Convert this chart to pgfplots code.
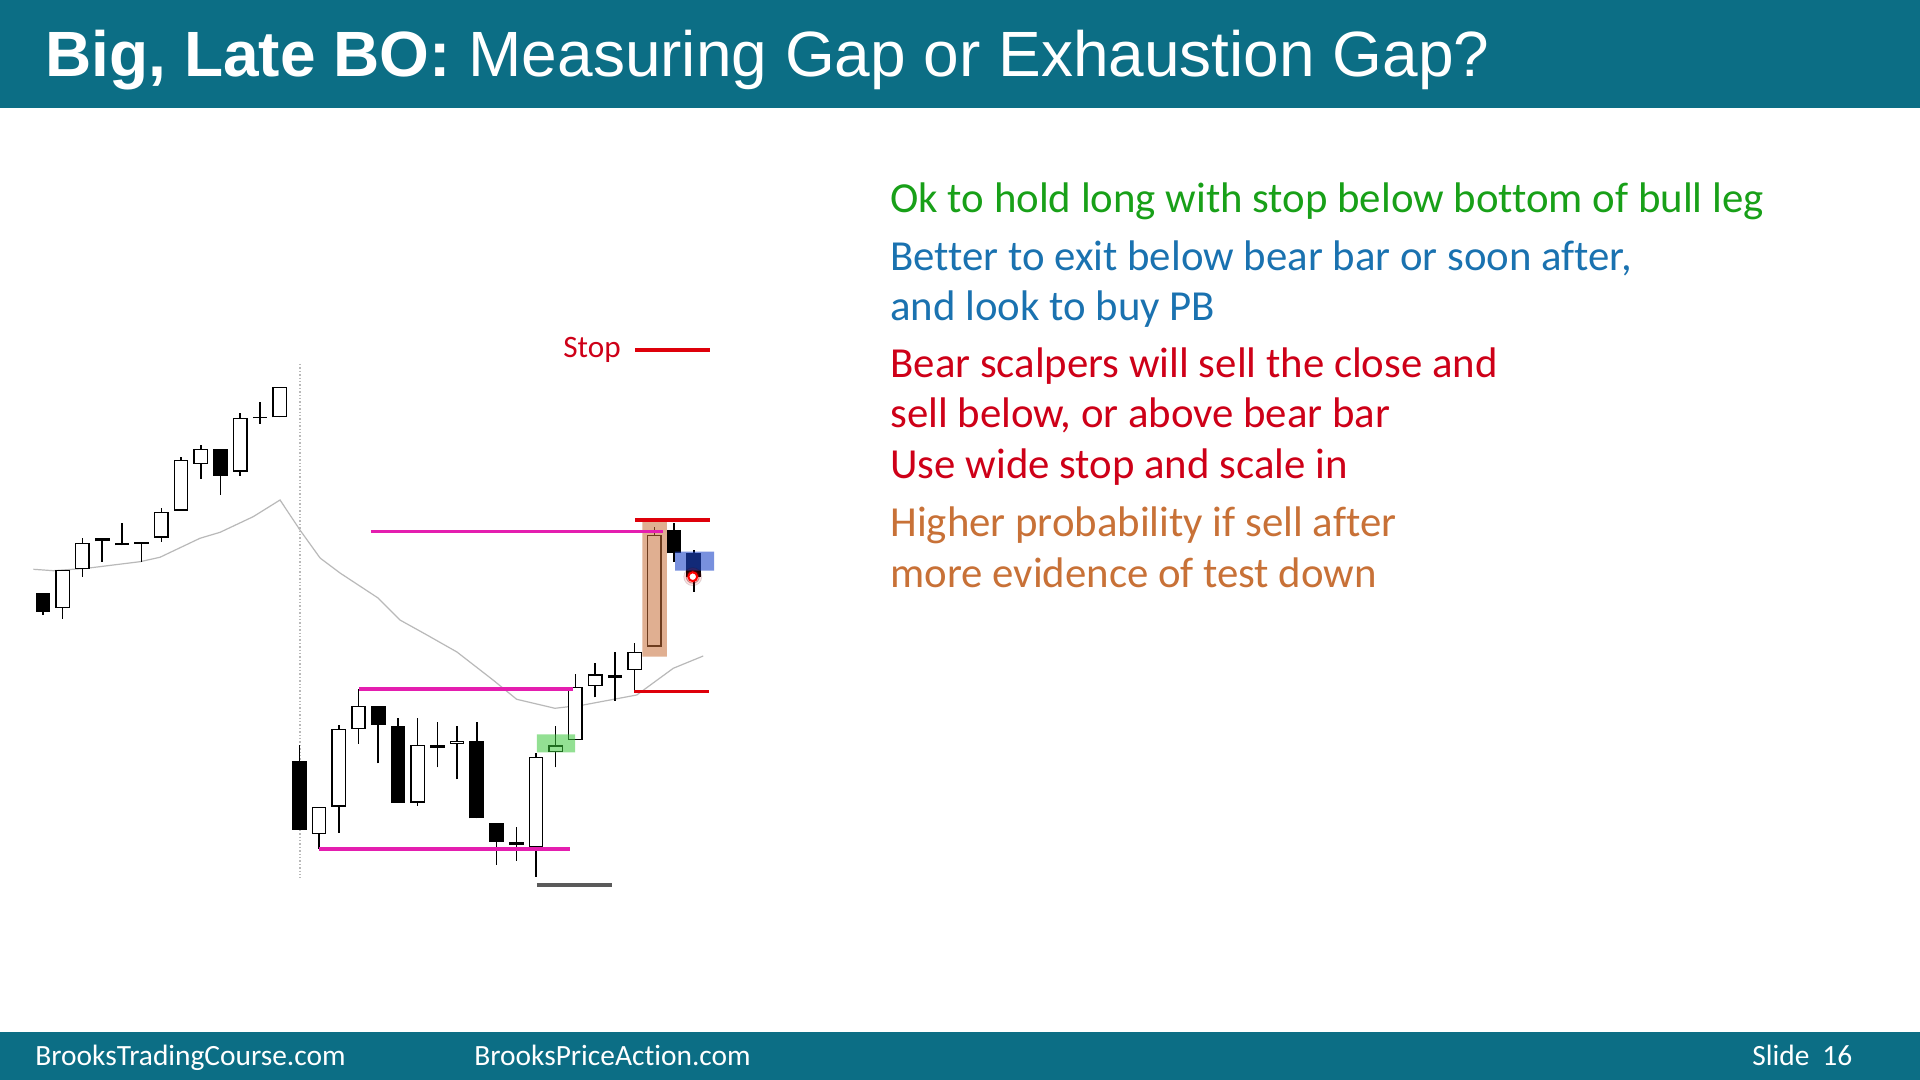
\documentclass[border=0pt]{standalone}
\usepackage{pgfplots}
\pgfplotsset{compat=1.18}
\usepackage{pgfplotstable}
\usepackage{fontspec}
\setmainfont[Ligatures=NoCommon]{Carlito}
\newfontfamily\titlefont{Liberation Sans}
\definecolor{hdr}{RGB}{12,110,133}
\definecolor{tgreen}{RGB}{24,160,24}
\definecolor{tblue}{RGB}{26,114,176}
\definecolor{tred}{RGB}{206,0,24}
\definecolor{torange}{RGB}{200,113,55}
\definecolor{mag}{RGB}{228,30,175}
\definecolor{lred}{RGB}{222,0,10}
\definecolor{ema}{RGB}{185,185,185}
\definecolor{obox}{RGB}{200,110,55}
\definecolor{gbox}{RGB}{60,200,60}
\definecolor{bbox}{RGB}{30,70,200}

% bull bars: i open high low close
\pgfplotstableread{
i  o     h     l     c
1  472   510   461   510
2  511   542   503   537
6  542.3 572.3 538.3 568.3
7  569.3 623.3 569.3 620
8  616   635   601   631
10 608.3 666.7 604.3 662.3
12 662.7 693.3 662.7 693.3
14 246   273   231   273
15 273.3 355   247   351
16 351   391   336   374
19 277.3 362.3 274   335
21 336   354.3 300.7 339.3
25 232.7 326.7 203.3 323.3
26 328   354   312.7 334.7
27 340   405.7 340   393.3
28 394   416.7 382.7 405.7
30 410   436.7 388.3 428.3
31 433.3 552.7 433.3 545
}\bull

% bear bars: i open high low close
\pgfplotstableread{
i  o     h     l     c
0  487   487   465   468
3  541.5 542   518   538.5
4  537.3 557   534.7 534.7
5  537.6 537.6 518.3 536.4
9  631   631   585   604.3
11 662.6 678   656   661.6
13 319.3 335   250   250
17 374   374   316.7 355
18 354.3 362.3 277.3 277.3
20 334.7 358.3 312.7 332
22 339.3 358.3 261.7 261.7
23 257.3 257.3 215   238.3
24 238   253.3 219.3 235
29 405   428.3 379   402.3
32 550   556.7 518.3 526.7
33 526.7 530   488.3 503.3
}\bear

\pgfplotsset{candle/.style={draw=none, mark=none, forget plot,
  error bars/.cd, y dir=plus, y explicit, error mark=none}}

\begin{document}
\begin{tikzpicture}
% ---------- slide frame and text (pixel coordinates) ----------
\begin{axis}[at={(0,0)}, anchor=south west, width=960pt, height=540pt,
  scale only axis, xmin=0, xmax=1920, ymin=0, ymax=1080, y dir=reverse,
  hide axis, clip=false]
\fill[white] (axis cs:0,0) rectangle (axis cs:1920,1080);
\fill[hdr] (axis cs:0,0) rectangle (axis cs:1920,108);
\fill[hdr] (axis cs:0,1032) rectangle (axis cs:1920,1080);
\node[anchor=base west, inner sep=0, text=white, font=\titlefont\fontsize{32}{38}\selectfont]
  at (axis cs:45,77) {\textbf{Big, Late BO:} Measuring Gap or Exhaustion Gap?};
\begin{scope}[every node/.style={anchor=base west, inner sep=0, text=white, font=\fontsize{14.7}{18}\selectfont}]
\node at (axis cs:35,1065) {BrooksTradingCourse.com};
\node at (axis cs:474,1065) {BrooksPriceAction.com};
\node at (axis cs:1752,1065) {Slide};
\node at (axis cs:1822,1065) {16};
\end{scope}
\begin{scope}[every node/.style={anchor=base west, inner sep=0, font=\fontsize{21.4}{25}\selectfont}]
\node[text=tgreen] at (axis cs:890,212.5) {Ok to hold long with stop below bottom of bull leg};
\node[text=tblue] at (axis cs:890,270) {Better to exit below bear bar or soon after,};
\node[text=tblue] at (axis cs:890,320.5) {and look to buy PB};
\node[text=tred] at (axis cs:890,377) {Bear scalpers will sell the close and};
\node[text=tred] at (axis cs:890,427.5) {sell below, or above bear bar};
\node[text=tred] at (axis cs:890,478.5) {Use wide stop and scale in};
\node[text=torange] at (axis cs:890,536) {Higher probability if sell after};
\node[text=torange] at (axis cs:890,587) {more evidence of test down};
\end{scope}
\node[anchor=base west, inner sep=0, text=tred, font=\fontsize{15.6}{18}\selectfont]
  at (axis cs:563,357) {Stop};
\end{axis}

% ---------- price chart (x = bar index, y = price) ----------
\begin{axis}[at={(0,0)}, anchor=south west, width=960pt, height=540pt,
  scale only axis, xmin=-2.1806, xmax=95.183, ymin=0, ymax=1080,
  hide axis, clip=false]
% vertical dotted separator
\addplot[draw={rgb,255:red,185;green,185;blue,185}, line width=0.7pt, densely dotted]
  coordinates {(13.03,716) (13.03,202)};
% EMA
\addplot[ema, line width=0.6pt, mark=none] coordinates {
(-0.49,510.7) (0.52,509.3) (2.22,511.7) (4.92,518.3) (5.93,522.7) (7.96,541.7)
(8.98,547.7) (10.66,563.3) (12.02,580) (13.03,550) (14.05,522) (15.06,507)
(16.99,482) (18.10,460) (19.47,445) (20.99,428) (22.82,400) (24.02,380.7)
(25.96,371.7) (27.40,375) (30.11,385) (31.96,411.7) (33.48,424)};
% wicks
\addplot[candle, error bar style={draw=black, line width=0.75pt}]
  table[x=i, y=l, y error plus expr=\thisrow{h}-\thisrow{l}] {\bull};
\addplot[candle, error bar style={draw=black, line width=0.75pt}]
  table[x=i, y=l, y error plus expr=\thisrow{h}-\thisrow{l}] {\bear};
% bodies
\addplot[candle, error bar style={draw=black, line width=7.35pt}]
  table[x=i, y=o, y error plus expr=\thisrow{c}-\thisrow{o}] {\bull};
\addplot[candle, error bar style={draw=black, line width=7.35pt}]
  table[x=i, y=c, y error plus expr=\thisrow{o}-\thisrow{c}] {\bear};
\addplot[candle, error bar style={draw=white, line width=5.95pt}]
  table[x=i, y expr=\thisrow{o}+1.4, y error plus expr=\thisrow{c}-\thisrow{o}-2.8] {\bull};
% highlight boxes
\addplot[fill=obox, draw=none, fill opacity=0.55] coordinates {(30.40,558.3) (31.63,558.3) (31.63,423.3) (30.40,423.3) (30.40,558.3)};
\addplot[fill=gbox, draw=none, fill opacity=0.55] coordinates {(25.04,345.7) (26.98,345.7) (26.98,327.7) (25.04,327.7) (25.04,345.7)};
\addplot[fill=bbox, draw=none, fill opacity=0.6] coordinates {(32.05,528.3) (34.03,528.3) (34.03,509.3) (32.05,509.3) (32.05,528.3)};
% magenta range lines
\addplot[mag, line width=1.65pt] coordinates {(16.63,548.3) (31.44,548.3)};
\addplot[mag, line width=1.65pt] coordinates {(16.02,391) (26.88,391)};
\addplot[mag, line width=1.65pt] coordinates {(14.0,231) (26.72,231)};
% red stop / range lines
\addplot[lred, line width=1.65pt] coordinates {(30.02,730) (33.82,730)};
\addplot[lred, line width=1.65pt] coordinates {(30.02,560) (33.82,560)};
\addplot[lred, line width=1.65pt] coordinates {(29.97,388.3) (33.77,388.3)};
% grey line below low
\addplot[draw={rgb,255:red,90;green,90;blue,90}, line width=1.65pt] coordinates {(25.05,195) (28.85,195)};
% red pointer dot
\addplot[only marks, mark=*, mark size=4.5pt, mark options={fill=red, draw=none, opacity=0.12}] coordinates {(32.95,503.3)};
\addplot[only marks, mark=*, mark size=3.3pt, mark options={fill=red, draw=none, opacity=0.25}] coordinates {(32.95,503.3)};
\addplot[only marks, mark=*, mark size=2.2pt, mark options={fill=white, draw=red, line width=1pt}] coordinates {(32.95,503.3)};
\end{axis}
\end{tikzpicture}
\end{document}
